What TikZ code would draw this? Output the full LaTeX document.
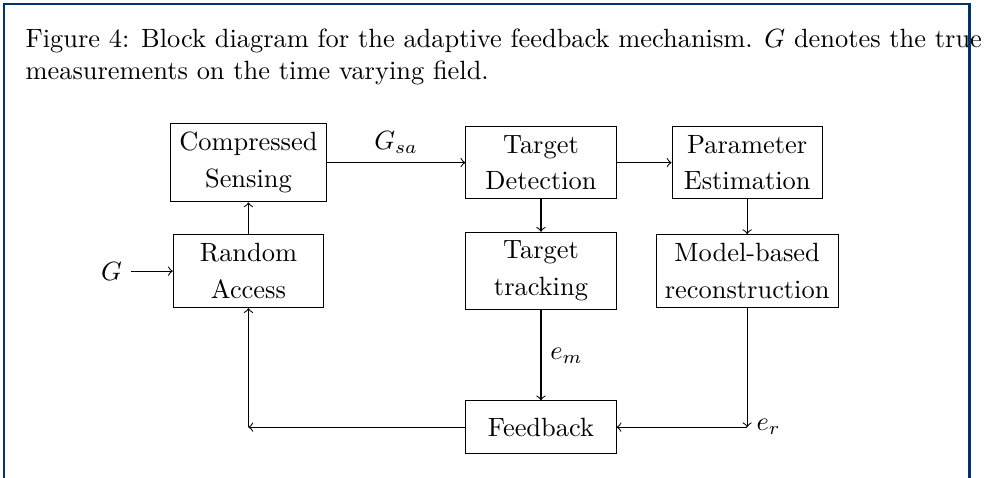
\documentclass[tikz,border=0pt]{standalone}
\usepackage{amsmath}
\usepackage{xcolor}
\usetikzlibrary{arrows,positioning}
\definecolor{frameblue}{RGB}{0,52,104}
\tikzset{
    %Define style for boxes
    blk/.style={
           rectangle,
           draw=black,
           align=center,
           minimum width=2cm,
           minimum height=7mm,
           font=\linespread{1.16}\selectfont},
    %Define style for the caption
    capt/.style={
           anchor=north west,
           inner sep=0pt,
           align=left},
    %Define style for the page frame
    pageframe/.style={
           draw=frameblue,
           line width=0.8pt}
}
\begin{document}
\begin{tikzpicture}[->,node distance=41.1pt and 110.8pt,on grid,auto]
\useasboundingbox (0,0) rectangle (374.6pt,-180.7pt);
 %caption
\node[capt] (cap) at (9.5pt,-10.9pt) {Figure 4: Block diagram for the adaptive feedback mechanism. $G$ denotes the true\\measurements on the time varying field.};
\draw[pageframe,-] (1.5pt,-190pt) |- (367.2pt,-1.5pt) -- (367.2pt,-190pt);
 %nodes
\node[blk] (cs) at (94.1pt,-61.6pt) {Compressed\\Sensing};
\node[blk, right=of cs] (td) {Target\\Detection};
\node[blk, right=78.1pt of td] (pe) {Parameter\\Estimation};
\node[blk, below=of cs] (ra) {Random\\Access};
\node[blk, below=of td] (tt) {Target\\tracking};
\node[blk, below=of pe] (mbr) {Model-based\\reconstruction};
\node[blk, below=59.1pt of tt] (fb) {Feedback};
\node[left=51.9pt of ra] (g) {$G$};
\coordinate[label=right:$e_r$] (er) at (mbr |- fb);
\coordinate (back) at (ra |- fb);
 %connections
 \path
   (g) edge (ra)
   (ra) edge (cs)
   (cs) edge node {$G_{sa}$} (td)
   (td) edge (pe) edge (tt)
   (pe) edge (mbr)
   (tt) edge node {$e_m$} (fb)
   (mbr) edge (er)
   (er) edge (fb)
   (fb) edge (back)
   (back) edge (ra);
\end{tikzpicture}
\end{document}
